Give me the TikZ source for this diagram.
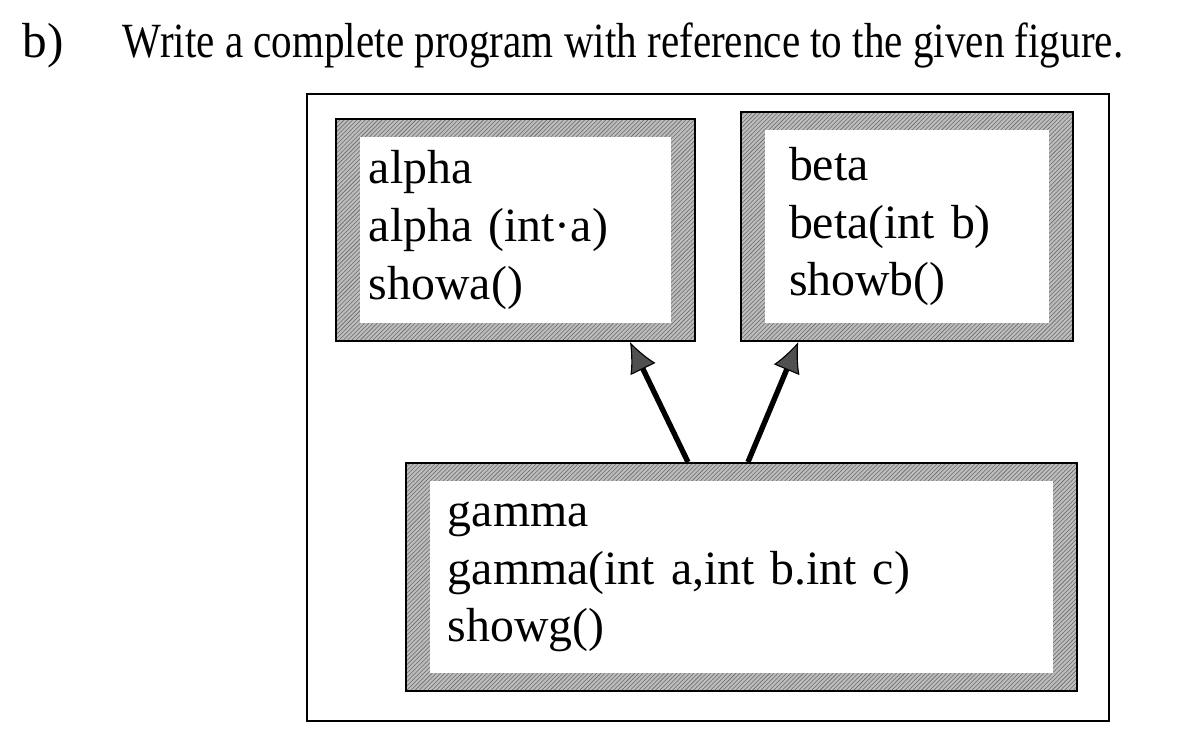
\documentclass[tikz,border=0pt]{standalone}
\usepackage{fontspec}
\setmainfont{Liberation Serif}
\usepackage{graphicx}
\usetikzlibrary{arrows.meta,positioning,patterns}
\definecolor{BandGray}{HTML}{BDBDBD}
\definecolor{BandDark}{HTML}{6A6A6A}
\definecolor{ArrowGray}{HTML}{505050}

\begin{document}
\begin{tikzpicture}[
  x=0.025cm, y=-0.025cm,
  classbox/.style={draw=black, line width=1.4pt, align=left, inner ysep=0pt,
    font=\fontsize{34}{41}\selectfont,
    path picture={
      \fill[BandGray] (path picture bounding box.south west) rectangle (path picture bounding box.north east);
      \fill[pattern=north east lines, pattern color=BandDark] (path picture bounding box.south west) rectangle (path picture bounding box.north east);
      \fill[white] ([xshift=0.6cm,yshift=0.45cm]path picture bounding box.south west) rectangle ([xshift=-0.6cm,yshift=-0.45cm]path picture bounding box.north east);
    }},
  heading/.style={anchor=base west, font=\fontsize{35}{42}\selectfont},
  arrow/.style={-{Latex[length=0.75cm,width=0.7cm,line width=0.8pt,fill=ArrowGray]}, line width=3.8pt}
]
  \useasboundingbox (0,0) rectangle (1200,751);

  \node[heading] (part) at (18,57) {b)};
  \node[heading] (task) at (118,57) {\scalebox{0.835}[1]{Write a complete program with reference to the given figure.}};

  % frame round the figure
  \draw[line width=1.4pt] (307,94) rectangle (1109,721);

  \node[classbox, text width=7.325cm, inner xsep=0.825cm, minimum height=5.55cm] (alpha) at (515.5,230) {alpha\\alpha (int·a)\\showa()};
  \node[classbox, text width=5.9cm, inner xsep=1.2cm, minimum height=5.725cm, right=1.1cm of alpha.south east, anchor=south west] (beta) {beta\\beta(int b)\\showb()};
  \node[classbox, text width=14.675cm, inner xsep=1.05cm, minimum height=5.7cm, below right=3cm and 1.75cm of alpha.south west] (gamma) {gamma\\gamma(int a,int b.int c)\\showg()};

  \draw[arrow] ([xshift=-1.34cm]gamma.north) -- ([xshift=2.86cm]alpha.south);
  \draw[arrow] ([xshift=0.16cm]gamma.north) -- ([xshift=-2.72cm]beta.south);
\end{tikzpicture}
\end{document}
